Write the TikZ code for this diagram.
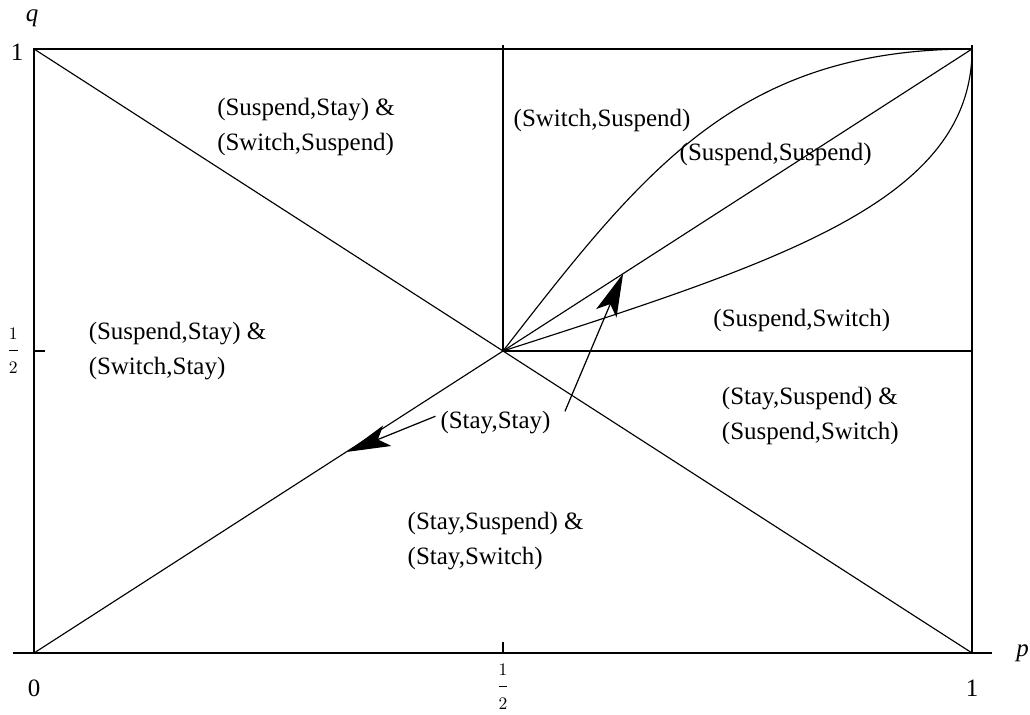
\documentclass[tikz,border=0pt]{standalone}
\usepackage{fontspec}
\setmainfont{Liberation Serif}
\usepackage{tikz}
\usetikzlibrary{positioning,arrows.meta}

\newcommand{\halfmark}{$\displaystyle\frac{\scriptstyle 1}{\scriptstyle 2}$}

\tikzset{
  region/.style={anchor=west, align=left, inner sep=0pt, font=\fontsize{14.2}{20}\selectfont},
  axlabel/.style={inner sep=0pt, font=\fontsize{14.2}{17}\selectfont},
  bound/.style={line width=0.65pt, black},
  pointer/.style={line width=0.7pt, -{Stealth[length=8.6mm, width=4.4mm, inset=2mm]}}
}

\begin{document}
\begin{tikzpicture}[x=18.76cm, y=12.08cm]
    \useasboundingbox (-0.03625,-0.1026) rectangle (1.0618,1.0811);

    \coordinate (o)  at (0,0);
    \coordinate (c)  at (0.5,0.5);
    \coordinate (tl) at (0,1);
    \coordinate (tr) at (1,1);
    \coordinate (br) at (1,0);
    \coordinate (rm) at (1,0.5);

    % axes and frame
    \draw[bound] (-0.0224,0) -- (1.0213,0);
    \draw[bound] (o) -- (tl) -- (tr);
    \draw[bound] (br) -- (1,1.007);
    \draw[bound] (0.5,0) -- (0.5,0.018);
    \draw[bound] (0,0.5) -- (0.0117,0.5);

    % region boundaries
    \draw[bound] (tl) -- (br);
    \draw[bound] (o) -- (tr);
    \draw[bound] (c) -- (0.5,1.007);
    \draw[bound] (c) -- (rm);
    \draw[bound] (c) .. controls (0.65,0.8) and (0.75,1) .. (tr);
    \draw[bound] (c) .. controls (0.8,0.65) and (1,0.75) .. (tr);

    % axis labels
    \node[axlabel] (qlab) at (-0.002,1.051) {\textit{q}};
    \node[axlabel] (plab) at (1.054,0.0) {\textit{p}};
    \node[axlabel] (y1)   at (-0.018,0.994) {1};
    \node[axlabel] (yh)   at (-0.022,0.5) {\halfmark};
    \node[axlabel] (x0)   at (0,-0.058) {0};
    \node[axlabel] (xh)   at (0.5,-0.056) {\halfmark};
    \node[axlabel] (x1)   at (1,-0.058) {1};

    % regions
    \node[region] (r1) at (0.195,0.871) {(Suspend,Stay) \&\\(Switch,Suspend)};
    \node[region] (r2) at (0.511,0.882) {(Switch,Suspend)};
    \node[region] (r3) at (0.688,0.826) {(Suspend,Suspend)};
    \node[region] (r4) at (0.058,0.5) {(Suspend,Stay) \&\\(Switch,Stay)};
    \node[region] (r5) at (0.724,0.55) {(Suspend,Switch)};
    \node[region] (r6) at (0.733,0.393) {(Stay,Suspend) \&\\(Suspend,Switch)};
    \node[region] (stst) at (0.433,0.382) {(Stay,Stay)};
    \node[region] (r8) at (0.398,0.185) {(Stay,Suspend) \&\\(Stay,Switch)};

    % pointers
    \coordinate (tipA)  at (0.334,0.333);
    \coordinate (tailB) at (0.566,0.40);
    \coordinate (tipB)  at (0.628,0.628);
    \draw[pointer] (stst.west) ++(-0.005,0.01) -- (tipA);
    \draw[pointer] (tailB) -- (tipB);
\end{tikzpicture}
\end{document}
